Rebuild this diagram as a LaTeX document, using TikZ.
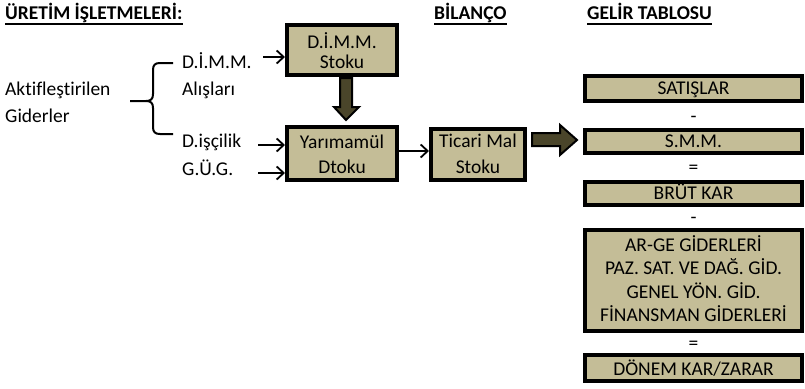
\documentclass[tikz,border=0pt]{standalone}
\usepackage{fontspec}
\setmainfont{Carlito}[Ligatures=CommonOff]
\usetikzlibrary{arrows.meta}
\definecolor{boxfill}{HTML}{C4BD97}
\definecolor{arrowfill}{HTML}{4A452A}
\tikzset{
  box/.style={draw=black, line width=4pt, fill=boxfill, inner sep=0pt},
  txt/.style={inner sep=0pt, font=\fontsize{19.5}{20}\selectfont},
  hdr/.style={inner sep=0pt, font=\bfseries\fontsize{19.5}{20}\selectfont},
  conn/.style={line width=1.8pt, -{Straight Barb[length=7pt,width=13pt]}},
  block/.style={draw=black, line width=2pt, fill=arrowfill, line join=miter},
  brace/.style={line width=2pt},
  uline/.style={line width=2pt},
}
\begin{document}
\begin{tikzpicture}[x=1pt,y=-1pt]
\useasboundingbox (0,0) rectangle (805,388);
% headings
\node[hdr, anchor=base west] (h1) at (5,19) {ÜRETİM İŞLETMELERİ:};
\draw[uline] ([yshift=-5pt]h1.base west) -- ([yshift=-5pt]h1.base east);
\node[hdr, anchor=base west] (h2) at (434,19) {BİLANÇO};
\draw[uline] ([yshift=-5pt]h2.base west) -- ([yshift=-5pt]h2.base east);
\node[hdr, anchor=base west] (h3) at (587,19) {GELİR TABLOSU};
\draw[uline] ([yshift=-5pt]h3.base west) -- ([yshift=-5pt]h3.base east);
% left labels
\node[txt, anchor=base west] (akt1) at (5,95) {Aktifleştirilen};
\node[txt, anchor=base west] (akt2) at (5,122) {Giderler};
\node[txt, anchor=base west] (l1) at (182,68) {D.İ.M.M.};
\node[txt, anchor=base west] (l2) at (182,95) {Alışları};
\node[txt, anchor=base west] (l3) at (182,147) {D.işçilik};
\node[txt, anchor=base west] (l4) at (182,175) {G.Ü.G.};
% brace
\draw[brace] (173,63) -- (160,63) .. controls (155,63) and (153,65) .. (153,70) -- (153,94) .. controls (153,99) and (151,101) .. (146,101) -- (130,101);
\draw[brace] (146,101) .. controls (151,101) and (153,103) .. (153,108) -- (153,127) .. controls (153,132) and (155,134) .. (160,134) -- (173,134);
% production boxes
\node[box, minimum width=110pt, minimum height=50pt] (dimm) at (342,50) {};
\node[txt, anchor=base] (dimm1) at (342,48) {D.İ.M.M.};
\node[txt, anchor=base] (dimm2) at (342,68) {Stoku};
\node[box, minimum width=110pt, minimum height=53pt] (yari) at (342,153.5) {};
\node[txt, anchor=base] (yari1) at (342,148) {Yarımamül};
\node[txt, anchor=base] (yari2) at (342,173) {Dtoku};
\node[box, minimum width=94pt, minimum height=51pt] (tic) at (478,154.5) {};
\node[txt, anchor=base] (tic1) at (478,147) {Ticari Mal};
\node[txt, anchor=base] (tic2) at (478,173) {Stoku};
% income statement column
\node[box, minimum width=217pt, minimum height=25pt] (sat) at (693.5,88.5) {};
\node[txt, anchor=base] (sat1) at (693.5,94) {SATIŞLAR};
\node[txt, anchor=base] (op1) at (693.5,122) {-};
\node[box, minimum width=217pt, minimum height=23pt] (smm) at (693.5,141.5) {};
\node[txt, anchor=base] (smm1) at (693.5,147) {S.M.M.};
\node[txt, anchor=base] (op2) at (693.5,173) {=};
\node[box, minimum width=217pt, minimum height=23pt] (brut) at (693.5,193.5) {};
\node[txt, anchor=base] (brut1) at (693.5,199) {BRÜT KAR};
\node[txt, anchor=base] (op3) at (693.5,223) {-};
\node[box, minimum width=217pt, minimum height=101pt] (arge) at (693.5,280.5) {};
\node[txt, anchor=base] (arge1) at (693.5,251) {AR-GE GİDERLERİ};
\node[txt, anchor=base] (arge2) at (693.5,274.5) {PAZ. SAT. VE DAĞ. GİD.};
\node[txt, anchor=base] (arge3) at (693.5,298) {GENEL YÖN. GİD.};
\node[txt, anchor=base] (arge4) at (693.5,321.5) {FİNANSMAN GİDERLERİ};
\node[txt, anchor=base] (op4) at (693.5,349) {=};
\node[box, minimum width=217pt, minimum height=26pt] (donem) at (693.5,368) {};
\node[txt, anchor=base] (donem1) at (693.5,375) {DÖNEM KAR/ZARAR};
% block arrows
\draw[block] (340,78) -- (352,78) -- (352,107) -- (359,107) -- (346,120) -- (334,107) -- (340,107) -- cycle;
\draw[block] (532,133) -- (560,133) -- (560,125) -- (577,140) -- (560,155) -- (560,146) -- (532,146) -- cycle;
% thin connectors
\coordinate (s1) at (263,57);
\coordinate (s2) at (258,145);
\coordinate (s3) at (258,173);
\coordinate (s4) at (0,151);
\draw[conn] (s1) -- (s1 -| dimm.west);
\draw[conn] (s2) -- (s2 -| yari.west);
\draw[conn] (s3) -- (s3 -| yari.west);
\draw[conn] (s4 -| yari.east) -- (s4 -| tic.west);
\end{tikzpicture}
\end{document}
